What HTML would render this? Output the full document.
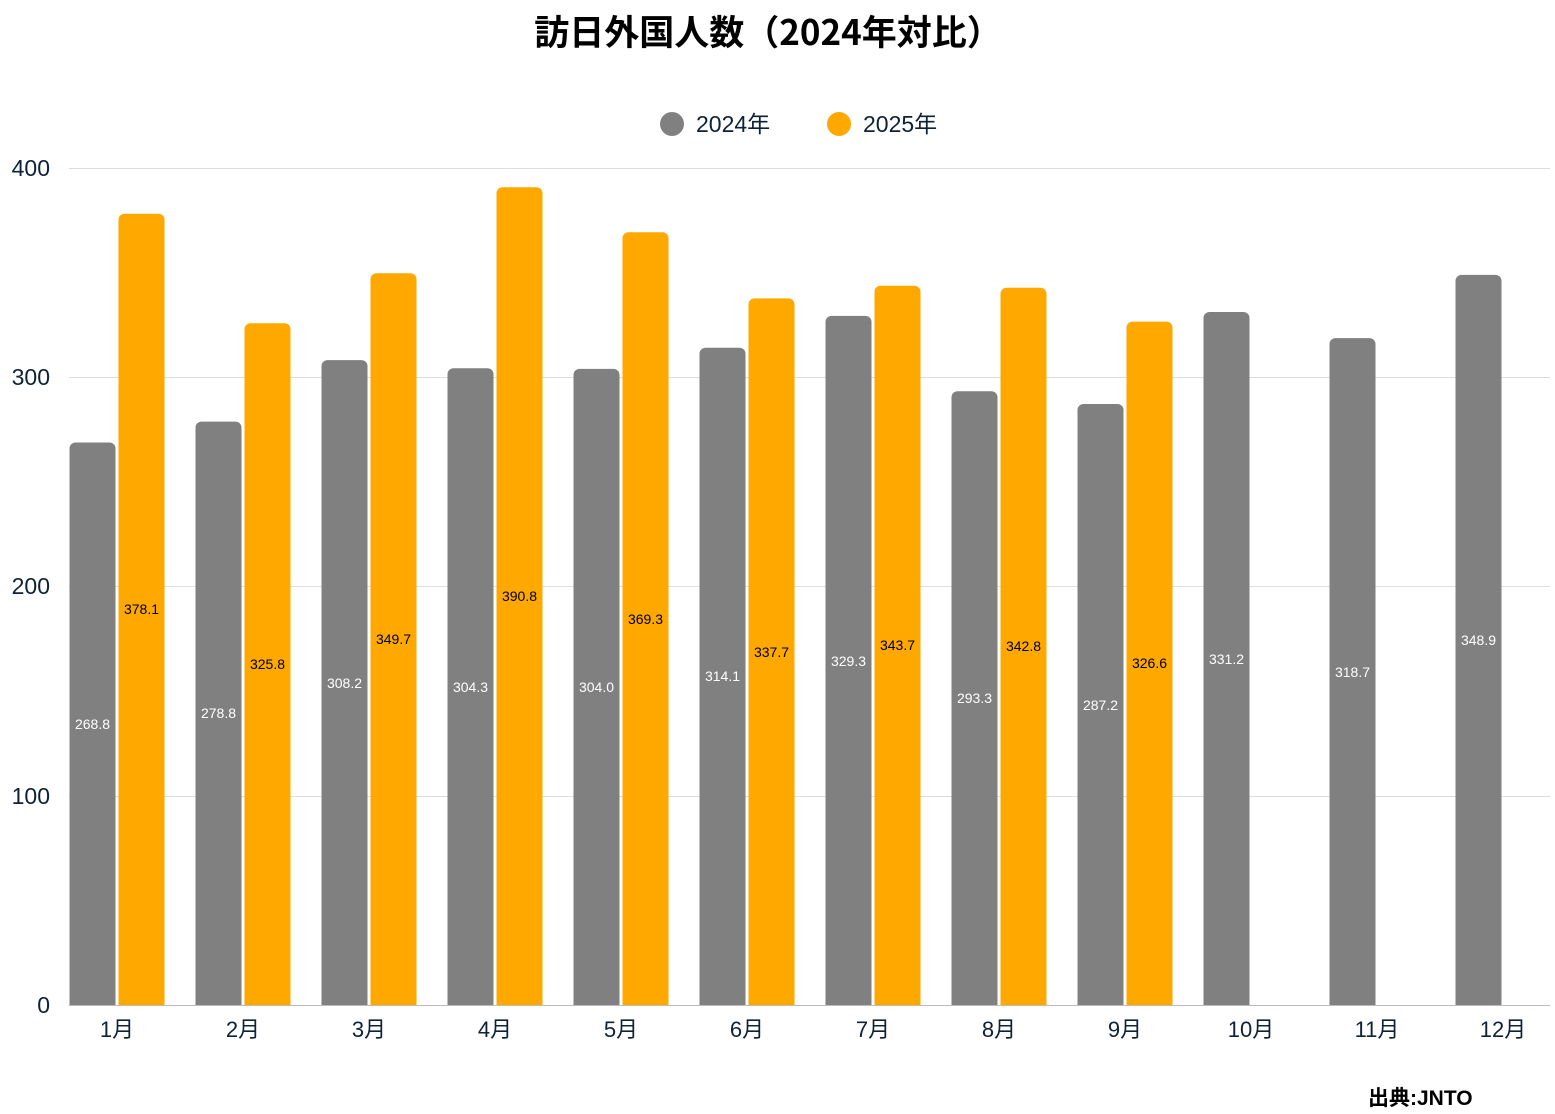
<!DOCTYPE html>
<html><head><meta charset="utf-8"><style>
html,body{margin:0;padding:0;background:#fff;}
svg{display:block;font-family:"Liberation Sans","Noto Sans CJK JP",sans-serif;}
.g{fill:#808080}.o{fill:#FFA800}
.lw{font-size:14px;fill:#fff;text-anchor:middle}
.lb{font-size:14px;fill:#000;text-anchor:middle}
.m{font-size:22px;fill:#0d2236;text-anchor:middle}
</style></head><body>
<svg width="1555" height="1114" viewBox="0 0 1555 1114" xmlns="http://www.w3.org/2000/svg">
<text x="768" y="45" text-anchor="middle" font-size="35" font-weight="bold" fill="#000" style="font-family:'Noto Sans CJK JP',sans-serif">訪日外国人数（2024年対比）</text>
<circle cx="672" cy="124" r="12" fill="#808080"/>
<text x="696" y="132" font-size="23" fill="#0d2236">2024年</text>
<circle cx="839" cy="124" r="12" fill="#FFA800"/>
<text x="863" y="132" font-size="23" fill="#0d2236">2025年</text>
<g stroke="#dddddd" stroke-width="1">
<line x1="69" x2="1550" y1="168.5" y2="168.5"/>
<line x1="69" x2="1550" y1="377.5" y2="377.5"/>
<line x1="69" x2="1550" y1="586.5" y2="586.5"/>
<line x1="69" x2="1550" y1="796.5" y2="796.5"/>
</g>
<g font-size="23" fill="#0d2236" text-anchor="end">
<text x="50" y="176">400</text><text x="50" y="385">300</text><text x="50" y="594">200</text><text x="50" y="804">100</text><text x="50" y="1013">0</text>
</g>
<!-- gray bars -->
<g class="g">
<rect x="69.5" y="442.5" width="46" height="562.5" rx="6"/><rect x="69.5" y="452" width="46" height="553"/>
<rect x="195.5" y="421.6" width="46" height="583.4" rx="6"/><rect x="195.5" y="431" width="46" height="574"/>
<rect x="321.5" y="360.1" width="46" height="644.9" rx="6"/><rect x="321.5" y="370" width="46" height="635"/>
<rect x="447.5" y="368.3" width="46" height="636.7" rx="6"/><rect x="447.5" y="378" width="46" height="627"/>
<rect x="573.5" y="368.9" width="46" height="636.1" rx="6"/><rect x="573.5" y="378" width="46" height="627"/>
<rect x="699.5" y="347.8" width="46" height="657.2" rx="6"/><rect x="699.5" y="357" width="46" height="648"/>
<rect x="825.5" y="315.9" width="46" height="689.1" rx="6"/><rect x="825.5" y="325" width="46" height="680"/>
<rect x="951.5" y="391.3" width="46" height="613.7" rx="6"/><rect x="951.5" y="401" width="46" height="604"/>
<rect x="1077.5" y="404.0" width="46" height="601" rx="6"/><rect x="1077.5" y="414" width="46" height="591"/>
<rect x="1203.5" y="312.0" width="46" height="693" rx="6"/><rect x="1203.5" y="322" width="46" height="683"/>
<rect x="1329.5" y="338.1" width="46" height="666.9" rx="6"/><rect x="1329.5" y="348" width="46" height="657"/>
<rect x="1455.5" y="274.9" width="46" height="730.1" rx="6"/><rect x="1455.5" y="285" width="46" height="720"/>
</g>
<!-- orange bars -->
<g class="o">
<rect x="118.5" y="213.8" width="46" height="791.2" rx="6"/><rect x="118.5" y="224" width="46" height="781"/>
<rect x="244.5" y="323.3" width="46" height="681.7" rx="6"/><rect x="244.5" y="333" width="46" height="672"/>
<rect x="370.5" y="273.3" width="46" height="731.7" rx="6"/><rect x="370.5" y="283" width="46" height="722"/>
<rect x="496.5" y="187.3" width="46" height="817.7" rx="6"/><rect x="496.5" y="197" width="46" height="808"/>
<rect x="622.5" y="232.2" width="46" height="772.8" rx="6"/><rect x="622.5" y="242" width="46" height="763"/>
<rect x="748.5" y="298.4" width="46" height="706.6" rx="6"/><rect x="748.5" y="308" width="46" height="697"/>
<rect x="874.5" y="285.8" width="46" height="719.2" rx="6"/><rect x="874.5" y="295" width="46" height="710"/>
<rect x="1000.5" y="287.7" width="46" height="717.3" rx="6"/><rect x="1000.5" y="297" width="46" height="708"/>
<rect x="1126.5" y="321.6" width="46" height="683.4" rx="6"/><rect x="1126.5" y="331" width="46" height="674"/>
</g>
<g class="lw">
<text x="92.5" y="729">268.8</text>
<text x="218.5" y="718">278.8</text>
<text x="344.5" y="688">308.2</text>
<text x="470.5" y="692">304.3</text>
<text x="596.5" y="692">304.0</text>
<text x="722.5" y="681">314.1</text>
<text x="848.5" y="666">329.3</text>
<text x="974.5" y="703">293.3</text>
<text x="1100.5" y="710">287.2</text>
<text x="1226.5" y="664">331.2</text>
<text x="1352.5" y="677">318.7</text>
<text x="1478.5" y="645">348.9</text>
</g>
<g class="lb">
<text x="141.5" y="614">378.1</text>
<text x="267.5" y="669">325.8</text>
<text x="393.5" y="644">349.7</text>
<text x="519.5" y="601">390.8</text>
<text x="645.5" y="624">369.3</text>
<text x="771.5" y="657">337.7</text>
<text x="897.5" y="650">343.7</text>
<text x="1023.5" y="651">342.8</text>
<text x="1149.5" y="668">326.6</text>
</g>
<line x1="69" x2="1550" y1="1005.5" y2="1005.5" stroke="#bbbbbb" stroke-width="1"/>
<g class="m">
<text x="117" y="1037">1月</text><text x="243" y="1037">2月</text><text x="369" y="1037">3月</text><text x="495" y="1037">4月</text>
<text x="621" y="1037">5月</text><text x="747" y="1037">6月</text><text x="873" y="1037">7月</text><text x="999" y="1037">8月</text>
<text x="1125" y="1037">9月</text><text x="1251" y="1037">10月</text><text x="1377" y="1037">11月</text><text x="1503" y="1037">12月</text>
</g>
<text x="1368" y="1105" font-size="21" font-weight="bold" fill="#000">出典:JNTO</text>
</svg>
</body></html>
